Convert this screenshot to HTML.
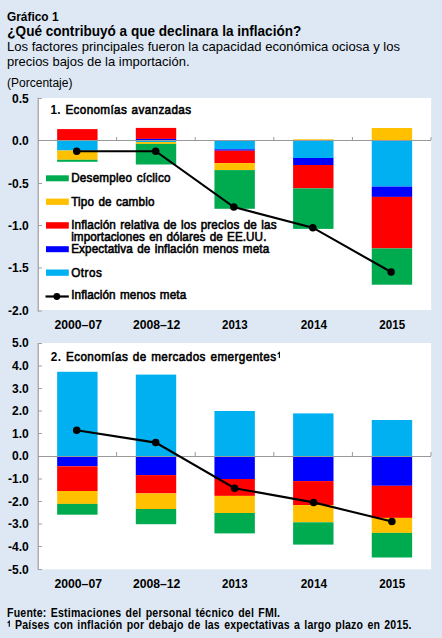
<!DOCTYPE html>
<html><head><meta charset="utf-8"><style>
html,body{margin:0;padding:0;background:#DDE8F4;width:442px;height:638px;overflow:hidden}
svg{display:block}
text{font-family:"Liberation Sans",sans-serif}
</style></head><body><svg width="442" height="638" viewBox="0 0 442 638" font-family="Liberation Sans, sans-serif"><rect x="38.80" y="98.00" width="392.40" height="212.00" fill="#FFFFFF"/><rect x="57.15" y="129.10" width="40.40" height="11.40" fill="#FF0000"/><rect x="57.15" y="140.50" width="40.40" height="10.00" fill="#00B0F0"/><rect x="57.15" y="150.50" width="40.40" height="9.30" fill="#FFC000"/><rect x="57.15" y="159.80" width="40.40" height="2.00" fill="#00AB50"/><rect x="135.80" y="127.90" width="40.40" height="11.00" fill="#FF0000"/><rect x="135.80" y="138.90" width="40.40" height="1.60" fill="#0000FF"/><rect x="135.80" y="140.50" width="40.40" height="1.50" fill="#00B0F0"/><rect x="135.80" y="142.00" width="40.40" height="1.90" fill="#FFC000"/><rect x="135.80" y="143.90" width="40.40" height="20.60" fill="#00AB50"/><rect x="214.45" y="140.50" width="40.40" height="8.80" fill="#00B0F0"/><rect x="214.45" y="149.30" width="40.40" height="1.40" fill="#0000FF"/><rect x="214.45" y="150.70" width="40.40" height="12.40" fill="#FF0000"/><rect x="214.45" y="163.10" width="40.40" height="7.00" fill="#FFC000"/><rect x="214.45" y="170.10" width="40.40" height="38.70" fill="#00AB50"/><rect x="293.10" y="139.30" width="40.40" height="1.20" fill="#FFC000"/><rect x="293.10" y="140.50" width="40.40" height="17.50" fill="#00B0F0"/><rect x="293.10" y="158.00" width="40.40" height="7.00" fill="#0000FF"/><rect x="293.10" y="165.00" width="40.40" height="23.40" fill="#FF0000"/><rect x="293.10" y="188.40" width="40.40" height="40.50" fill="#00AB50"/><rect x="371.75" y="128.00" width="40.40" height="12.50" fill="#FFC000"/><rect x="371.75" y="140.50" width="40.40" height="46.10" fill="#00B0F0"/><rect x="371.75" y="186.60" width="40.40" height="10.30" fill="#0000FF"/><rect x="371.75" y="196.90" width="40.40" height="51.50" fill="#FF0000"/><rect x="371.75" y="248.40" width="40.40" height="36.30" fill="#00AB50"/><rect x="37.60" y="97.80" width="1.20" height="213.90" fill="#A0A0A0"/><rect x="38.00" y="98.00" width="4.00" height="1.00" fill="#A0A0A0"/><rect x="38.00" y="140.00" width="4.00" height="1.00" fill="#A0A0A0"/><rect x="38.00" y="183.00" width="4.00" height="1.00" fill="#A0A0A0"/><rect x="38.00" y="225.00" width="4.00" height="1.00" fill="#A0A0A0"/><rect x="38.00" y="267.50" width="4.00" height="1.00" fill="#A0A0A0"/><rect x="38.00" y="310.50" width="4.00" height="1.00" fill="#A0A0A0"/><rect x="38.00" y="140.00" width="393.00" height="1.00" fill="#999999"/><rect x="116.10" y="137.00" width="1.00" height="3.00" fill="#999999"/><rect x="194.70" y="137.00" width="1.00" height="3.00" fill="#999999"/><rect x="273.30" y="137.00" width="1.00" height="3.00" fill="#999999"/><rect x="351.90" y="137.00" width="1.00" height="3.00" fill="#999999"/><rect x="430.50" y="137.00" width="1.00" height="3.00" fill="#999999"/><rect x="46.00" y="175.30" width="22.80" height="6.00" fill="#00AB50"/><rect x="46.00" y="198.60" width="22.80" height="6.30" fill="#FFC000"/><rect x="46.00" y="222.20" width="22.80" height="6.40" fill="#FF0000"/><rect x="46.00" y="246.20" width="22.80" height="6.00" fill="#0000FF"/><rect x="46.00" y="269.50" width="22.80" height="6.30" fill="#00B0F0"/><rect x="45.50" y="295.40" width="23.30" height="2.20" fill="#000"/><circle cx="56.8" cy="296.5" r="3.4" fill="#000"/><polyline points="76.70,151.20 155.70,151.20 233.80,207.10 312.80,227.70 391.10,272.00" fill="none" stroke="#000" stroke-width="2.1"/><circle cx="76.70" cy="151.20" r="3.75" fill="#000"/><circle cx="155.70" cy="151.20" r="3.75" fill="#000"/><circle cx="233.80" cy="207.10" r="3.75" fill="#000"/><circle cx="312.80" cy="227.70" r="3.75" fill="#000"/><circle cx="391.10" cy="272.00" r="3.75" fill="#000"/><rect x="38.80" y="343.00" width="392.40" height="226.30" fill="#FFFFFF"/><rect x="57.15" y="371.80" width="40.40" height="84.70" fill="#00B0F0"/><rect x="57.15" y="456.50" width="40.40" height="9.80" fill="#0000FF"/><rect x="57.15" y="466.30" width="40.40" height="24.70" fill="#FF0000"/><rect x="57.15" y="491.00" width="40.40" height="12.90" fill="#FFC000"/><rect x="57.15" y="503.90" width="40.40" height="10.80" fill="#00AB50"/><rect x="135.80" y="374.60" width="40.40" height="81.90" fill="#00B0F0"/><rect x="135.80" y="456.50" width="40.40" height="18.60" fill="#0000FF"/><rect x="135.80" y="475.10" width="40.40" height="18.30" fill="#FF0000"/><rect x="135.80" y="493.40" width="40.40" height="15.60" fill="#FFC000"/><rect x="135.80" y="509.00" width="40.40" height="15.20" fill="#00AB50"/><rect x="214.45" y="411.00" width="40.40" height="45.50" fill="#00B0F0"/><rect x="214.45" y="456.50" width="40.40" height="22.50" fill="#0000FF"/><rect x="214.45" y="479.00" width="40.40" height="16.90" fill="#FF0000"/><rect x="214.45" y="495.90" width="40.40" height="17.10" fill="#FFC000"/><rect x="214.45" y="513.00" width="40.40" height="20.40" fill="#00AB50"/><rect x="293.10" y="413.40" width="40.40" height="43.10" fill="#00B0F0"/><rect x="293.10" y="456.50" width="40.40" height="24.60" fill="#0000FF"/><rect x="293.10" y="481.10" width="40.40" height="24.00" fill="#FF0000"/><rect x="293.10" y="505.10" width="40.40" height="17.20" fill="#FFC000"/><rect x="293.10" y="522.30" width="40.40" height="22.30" fill="#00AB50"/><rect x="371.75" y="420.00" width="40.40" height="36.50" fill="#00B0F0"/><rect x="371.75" y="456.50" width="40.40" height="29.30" fill="#0000FF"/><rect x="371.75" y="485.80" width="40.40" height="32.10" fill="#FF0000"/><rect x="371.75" y="517.90" width="40.40" height="15.00" fill="#FFC000"/><rect x="371.75" y="532.90" width="40.40" height="24.60" fill="#00AB50"/><rect x="37.60" y="343.00" width="1.20" height="227.00" fill="#A0A0A0"/><rect x="38.00" y="343.00" width="4.00" height="1.00" fill="#A0A0A0"/><rect x="38.00" y="365.50" width="4.00" height="1.00" fill="#A0A0A0"/><rect x="38.00" y="388.00" width="4.00" height="1.00" fill="#A0A0A0"/><rect x="38.00" y="410.50" width="4.00" height="1.00" fill="#A0A0A0"/><rect x="38.00" y="433.00" width="4.00" height="1.00" fill="#A0A0A0"/><rect x="38.00" y="456.00" width="4.00" height="1.00" fill="#A0A0A0"/><rect x="38.00" y="478.50" width="4.00" height="1.00" fill="#A0A0A0"/><rect x="38.00" y="501.00" width="4.00" height="1.00" fill="#A0A0A0"/><rect x="38.00" y="523.50" width="4.00" height="1.00" fill="#A0A0A0"/><rect x="38.00" y="546.00" width="4.00" height="1.00" fill="#A0A0A0"/><rect x="38.00" y="569.00" width="4.00" height="1.00" fill="#A0A0A0"/><rect x="38.00" y="456.00" width="393.00" height="1.00" fill="#999999"/><rect x="116.10" y="452.00" width="1.00" height="4.00" fill="#999999"/><rect x="194.70" y="452.00" width="1.00" height="4.00" fill="#999999"/><rect x="273.30" y="452.00" width="1.00" height="4.00" fill="#999999"/><rect x="351.90" y="452.00" width="1.00" height="4.00" fill="#999999"/><rect x="430.50" y="452.00" width="1.00" height="4.00" fill="#999999"/><polyline points="76.70,430.20 155.70,442.60 234.60,488.20 313.60,502.40 391.90,521.60" fill="none" stroke="#000" stroke-width="2.1"/><circle cx="76.70" cy="430.20" r="3.75" fill="#000"/><circle cx="155.70" cy="442.60" r="3.75" fill="#000"/><circle cx="234.60" cy="488.20" r="3.75" fill="#000"/><circle cx="313.60" cy="502.40" r="3.75" fill="#000"/><circle cx="391.90" cy="521.60" r="3.75" fill="#000"/><text x="7.00" y="20.90" font-size="12" font-weight="bold" text-anchor="start" textLength="51.50" lengthAdjust="spacingAndGlyphs" fill="#000">Gráfico 1</text><text x="7.30" y="35.90" font-size="13.8" font-weight="bold" text-anchor="start" textLength="294.00" lengthAdjust="spacingAndGlyphs" fill="#000">¿Qué contribuyó a que declinara la inflación?</text><text x="7.00" y="51.00" font-size="13.4" font-weight="normal" text-anchor="start" textLength="393.00" lengthAdjust="spacingAndGlyphs" fill="#000">Los factores principales fueron la capacidad económica ociosa y los</text><text x="7.00" y="66.00" font-size="13.4" font-weight="normal" text-anchor="start" textLength="182.50" lengthAdjust="spacingAndGlyphs" fill="#000">precios bajos de la importación.</text><text x="7.00" y="87.20" font-size="12" font-weight="normal" text-anchor="start" textLength="65.50" lengthAdjust="spacingAndGlyphs" fill="#000">(Porcentaje)</text><text x="28.80" y="103.00" font-size="12" font-weight="bold" text-anchor="end" fill="#000">0.5</text><text x="28.80" y="145.00" font-size="12" font-weight="bold" text-anchor="end" fill="#000">0.0</text><text x="28.80" y="188.00" font-size="12" font-weight="bold" text-anchor="end" fill="#000">-0.5</text><text x="28.80" y="230.00" font-size="12" font-weight="bold" text-anchor="end" fill="#000">-1.0</text><text x="28.80" y="272.00" font-size="12" font-weight="bold" text-anchor="end" fill="#000">-1.5</text><text x="28.80" y="315.00" font-size="12" font-weight="bold" text-anchor="end" fill="#000">-2.0</text><text x="56.11" y="114.00" font-size="13" font-weight="normal" text-anchor="start" textLength="156.11" lengthAdjust="spacing" fill="#000" stroke="#000" stroke-width="0.6" transform="scale(0.9,1)" word-spacing="1"><tspan font-weight="bold" stroke-width="0">1.</tspan> Economías avanzadas</text><text x="79.11" y="182.20" font-size="13" font-weight="normal" text-anchor="start" textLength="110.33" lengthAdjust="spacing" fill="#000" stroke="#000" stroke-width="0.6" transform="scale(0.9,1)" word-spacing="1">Desempleo cíclico</text><text x="79.11" y="206.30" font-size="13" font-weight="normal" text-anchor="start" textLength="92.44" lengthAdjust="spacing" fill="#000" stroke="#000" stroke-width="0.6" transform="scale(0.9,1)" word-spacing="1">Tipo de cambio</text><text x="79.11" y="228.60" font-size="13" font-weight="normal" text-anchor="start" textLength="228.11" lengthAdjust="spacing" fill="#000" stroke="#000" stroke-width="0.6" transform="scale(0.9,1)" word-spacing="1">Inflación relativa de los precios de las</text><text x="79.11" y="241.30" font-size="13" font-weight="normal" text-anchor="start" textLength="216.89" lengthAdjust="spacing" fill="#000" stroke="#000" stroke-width="0.6" transform="scale(0.9,1)" word-spacing="1">importaciones en dólares de EE.UU.</text><text x="79.11" y="253.00" font-size="13" font-weight="normal" text-anchor="start" textLength="220.00" lengthAdjust="spacing" fill="#000" stroke="#000" stroke-width="0.6" transform="scale(0.9,1)" word-spacing="1">Expectativa de inflación menos meta</text><text x="79.11" y="276.60" font-size="13" font-weight="normal" text-anchor="start" textLength="34.00" lengthAdjust="spacing" fill="#000" stroke="#000" stroke-width="0.6" transform="scale(0.9,1)" word-spacing="1">Otros</text><text x="79.11" y="298.80" font-size="13" font-weight="normal" text-anchor="start" textLength="127.78" lengthAdjust="spacing" fill="#000" stroke="#000" stroke-width="0.6" transform="scale(0.9,1)" word-spacing="1">Inflación menos meta</text><text x="78.20" y="328.70" font-size="12" font-weight="bold" text-anchor="middle" textLength="47.60" lengthAdjust="spacingAndGlyphs" fill="#000">2000–07</text><text x="156.65" y="328.70" font-size="12" font-weight="bold" text-anchor="middle" textLength="47.50" lengthAdjust="spacingAndGlyphs" fill="#000">2008–12</text><text x="234.85" y="328.70" font-size="12" font-weight="bold" text-anchor="middle" textLength="25.60" lengthAdjust="spacingAndGlyphs" fill="#000">2013</text><text x="313.90" y="328.70" font-size="12" font-weight="bold" text-anchor="middle" textLength="26.20" lengthAdjust="spacingAndGlyphs" fill="#000">2014</text><text x="392.25" y="328.70" font-size="12" font-weight="bold" text-anchor="middle" textLength="25.80" lengthAdjust="spacingAndGlyphs" fill="#000">2015</text><text x="56.44" y="361.00" font-size="13" font-weight="normal" text-anchor="start" textLength="250.22" lengthAdjust="spacing" fill="#000" stroke="#000" stroke-width="0.6" transform="scale(0.9,1)" word-spacing="1"><tspan font-weight="bold" stroke-width="0">2.</tspan> Economías de mercados emergentes</text><path d="M277.6,354.1 L279.4,352.5 L279.4,357.9" fill="none" stroke="#000" stroke-width="1.1"/><text x="28.80" y="347.00" font-size="12" font-weight="bold" text-anchor="end" fill="#000">5.0</text><text x="28.80" y="370.00" font-size="12" font-weight="bold" text-anchor="end" fill="#000">4.0</text><text x="28.80" y="393.00" font-size="12" font-weight="bold" text-anchor="end" fill="#000">3.0</text><text x="28.80" y="415.00" font-size="12" font-weight="bold" text-anchor="end" fill="#000">2.0</text><text x="28.80" y="438.00" font-size="12" font-weight="bold" text-anchor="end" fill="#000">1.0</text><text x="28.80" y="460.00" font-size="12" font-weight="bold" text-anchor="end" fill="#000">0.0</text><text x="28.80" y="483.00" font-size="12" font-weight="bold" text-anchor="end" fill="#000">-1.0</text><text x="28.80" y="506.00" font-size="12" font-weight="bold" text-anchor="end" fill="#000">-2.0</text><text x="28.80" y="528.00" font-size="12" font-weight="bold" text-anchor="end" fill="#000">-3.0</text><text x="28.80" y="551.00" font-size="12" font-weight="bold" text-anchor="end" fill="#000">-4.0</text><text x="28.80" y="574.00" font-size="12" font-weight="bold" text-anchor="end" fill="#000">-5.0</text><text x="78.20" y="588.00" font-size="12" font-weight="bold" text-anchor="middle" textLength="47.60" lengthAdjust="spacingAndGlyphs" fill="#000">2000–07</text><text x="156.65" y="588.00" font-size="12" font-weight="bold" text-anchor="middle" textLength="47.50" lengthAdjust="spacingAndGlyphs" fill="#000">2008–12</text><text x="234.85" y="588.00" font-size="12" font-weight="bold" text-anchor="middle" textLength="25.60" lengthAdjust="spacingAndGlyphs" fill="#000">2013</text><text x="313.90" y="588.00" font-size="12" font-weight="bold" text-anchor="middle" textLength="26.20" lengthAdjust="spacingAndGlyphs" fill="#000">2014</text><text x="392.25" y="588.00" font-size="12" font-weight="bold" text-anchor="middle" textLength="25.80" lengthAdjust="spacingAndGlyphs" fill="#000">2015</text><text x="7.95" y="617.00" font-size="12" font-weight="bold" text-anchor="start" textLength="310.23" lengthAdjust="spacing" fill="#000" transform="scale(0.88,1)" word-spacing="1.2">Fuente: Estimaciones del personal técnico del FMI.</text><path d="M7.6,622.8 L9.3,621.2 L9.3,626.8" fill="none" stroke="#000" stroke-width="1.1"/><text x="17.05" y="629.00" font-size="12" font-weight="bold" text-anchor="start" textLength="450.57" lengthAdjust="spacing" fill="#000" transform="scale(0.88,1)" word-spacing="1.2">Países con inflación por debajo de las expectativas a largo plazo en 2015.</text></svg></body></html>
